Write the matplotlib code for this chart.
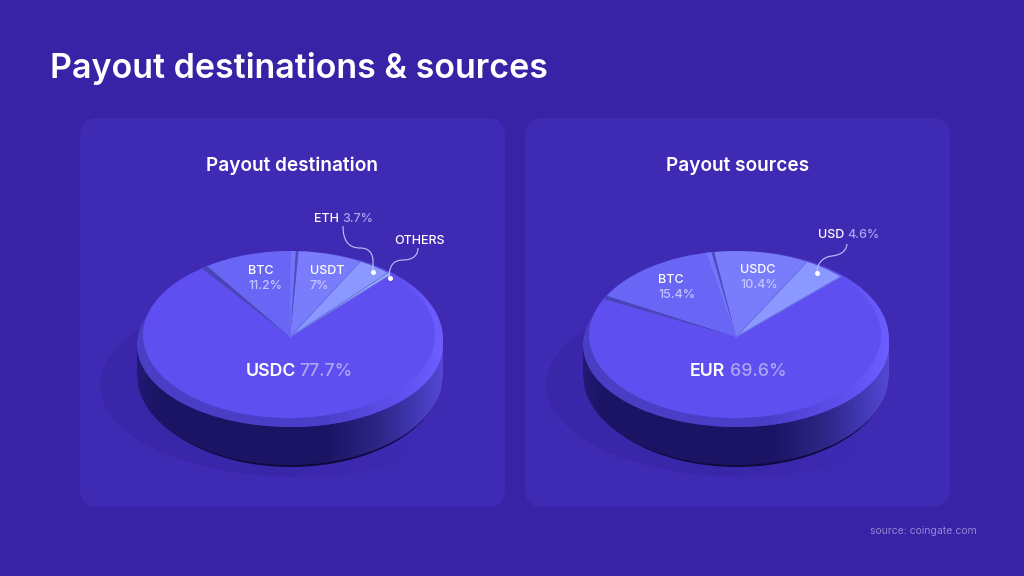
import numpy as np
import matplotlib
matplotlib.use("Agg")
import matplotlib.pyplot as plt
from matplotlib.colors import LinearSegmentedColormap
from matplotlib.patches import Ellipse, FancyBboxPatch, PathPatch, Polygon
from matplotlib.path import Path

plt.rcParams["font.family"] = ["Inter", "DejaVu Sans"]

BG = "#3822a6"
PANEL = "#3f2ab4"
FACE = "#5f4ff0"
WHITE = "#ffffff"
PALE = "#a9a6f2"
PALE_ON = "#c3c6fb"

left_names = ["USDC", "OTHERS", "ETH", "USDT", "BTC"]
left_values = [77.7, 0.4, 3.7, 7.0, 11.2]
left_colors = [FACE, "#a6c4ff", "#8a98ff", "#7a7dfb", "#6966f5"]

right_names = ["EUR", "USD", "USDC", "BTC"]
right_values = [69.6, 4.6, 10.4, 15.4]
right_colors = [FACE, "#8a98ff", "#7a7dfb", "#6966f5"]

side_cmap = LinearSegmentedColormap.from_list(
    "side", [(0, "#221a74"), (0.06, "#1c1566"), (0.62, "#1b1464"), (0.8, "#2f2788"),
             (0.9, "#4036b0"), (1, "#5448d4")])
bevel_cmap = LinearSegmentedColormap.from_list(
    "bevel", [(0, "#4a3ec4"), (0.62, "#4b3fca"), (0.86, "#6050f0"), (1, "#6c5eff")])
shadow_cmap = LinearSegmentedColormap.from_list(
    "shadow", [(0, (0.2, 0.13, 0.6, 0.4)), (0.45, (0.2, 0.13, 0.6, 0.4)), (0.8, (0.2, 0.13, 0.6, 0.0)),
               (1, (0.2, 0.13, 0.6, 0.0))])
GRAD = np.linspace(0, 1, 256).reshape(1, -1)


def draw_base(ax, cx):
    # soft shadow on the panel, fades out to the right
    im = ax.imshow(GRAD, cmap=shadow_cmap, aspect="auto", extent=(cx - 190, cx + 200, 480, 290), zorder=1)
    clip = Ellipse((cx + 5, 385), 390, 184, fc="none", ec="none")
    ax.add_patch(clip)
    im.set_clip_path(clip)
    # black crescent under the side
    ax.add_patch(Ellipse((cx + 1, 376), 302, 182, color="#0e0a3c", lw=0, zorder=2))
    x = np.linspace(-1, 1, 200)
    low = 375 + 90 * np.sqrt(1 - x ** 2)
    pts = np.column_stack([cx + 153 * x, low])
    pts = np.vstack([pts, [cx + 153, 345], [cx - 153, 345]])
    im = ax.imshow(GRAD, cmap=side_cmap, aspect="auto", extent=(cx - 153, cx + 153, 470, 330), zorder=3)
    clip = Polygon(pts, closed=True, fc="none", ec="none")
    ax.add_patch(clip)
    im.set_clip_path(clip)
    # bevel under the top face: low ellipse bulges left, high one shows on the right
    for ex, ey, w, h in [(cx, 345, 306, 164), (cx + 3, 339, 300, 176)]:
        im = ax.imshow(GRAD, cmap=bevel_cmap, aspect="auto", extent=(cx - 153, cx + 153, 430, 248), zorder=4)
        clip = Ellipse((ex, ey), w, h, fc="none", ec="none")
        ax.add_patch(clip)
        im.set_clip_path(clip)
    # USDC / EUR face
    ax.add_patch(Ellipse((cx - 1, 335), 292, 166, color=FACE, lw=0, zorder=5))


def sector(ax, a0, a1, color):
    t = np.radians(np.linspace(a0, a1, 8))
    xs = np.r_[0, np.cos(t)]
    ys = np.r_[0, np.sin(t)]
    ax.fill(xs, ys, color=color, lw=0, clip_on=False, zorder=5)


def draw_pie(fig, cx, start, values, colors):
    ax = fig.add_axes([(cx - 147) / 1024, 1 - 423 / 576, 294 / 1024, 172 / 576], zorder=1)
    wedges, _ = ax.pie(values, colors=colors, startangle=start, counterclock=True,
                       radius=1, wedgeprops={"linewidth": 0})
    wedges[0].set_visible(False)
    ax.set_aspect("auto")
    ax.set_xlim(-1, 1)
    ax.set_ylim(-1, 1)
    ax.patch.set_visible(False)
    ang = start + np.cumsum(values) * 3.6
    # walls around the BTC slice
    sector(ax, ang[-1] - 2.6, ang[-1], "#4a44b8")
    sector(ax, ang[-2], ang[-2] + 1.1, "#4f4cc0")
    sector(ax, ang[-2] + 1.1, ang[-2] + 3.0, "#7575f8")
    # thin lines between the others
    for a in ang[:-2]:
        t = np.radians(a)
        ax.plot([0, np.cos(t)], [0, np.sin(t)], color="#6a72e6", lw=0.8, clip_on=False, zorder=5)
    return ax


def connector(ax, verts, dot):
    codes = [Path.MOVETO] + [Path.CURVE4] * (len(verts) - 1)
    ax.add_patch(PathPatch(Path(verts, codes), fc="none", ec="#c4c3f5", lw=0.8, zorder=6))
    ax.plot(*dot, "o", color=WHITE, ms=3.6, mew=0, zorder=7)


def pair(ax, x1, x2, y, name, val, size, weight="medium", val_weight="medium"):
    ax.text(x1, y, name, color=WHITE, fontsize=size, fontweight=weight, va="center", ha="left")
    ax.text(x2, y, val, color=PALE, fontsize=size, fontweight=val_weight, va="center", ha="left")


def stacked(ax, x, y, name, val):
    ax.text(x, y, name, color=WHITE, fontsize=9, fontweight="medium", va="center")
    ax.text(x, y + 15, val, color=PALE_ON, fontsize=9, fontweight="medium", va="center")


fig = plt.figure(figsize=(10.24, 5.76), dpi=100, facecolor=BG)
bg = fig.add_axes([0, 0, 1, 1], zorder=0)
bg.axis("off")

for x0 in [80, 525]:
    bg.add_patch(FancyBboxPatch((x0 + 18, 118 + 18), 425 - 36, 389 - 36,
                                boxstyle="round,pad=18,rounding_size=18",
                                fc=PANEL, ec="none", zorder=0))

draw_base(bg, 290)
draw_base(bg, 736)
bg.set_xlim(0, 1024)
bg.set_ylim(576, 0)

draw_pie(fig, 290, 127, left_values, left_colors)
draw_pie(fig, 736, 154, right_values, right_colors)

top = fig.add_axes([0, 0, 1, 1], zorder=2)
top.set_xlim(0, 1024)
top.set_ylim(576, 0)
top.axis("off")

top.text(50, 68.5, "Payout destinations & sources", color=WHITE, fontsize=24.5, fontweight="semibold",
         va="center", ha="left")
top.text(292.5, 166, "Payout destination", color=WHITE, fontsize=13.7, fontweight="semibold",
         va="center", ha="center")
top.text(737.5, 166, "Payout sources", color=WHITE, fontsize=13.7, fontweight="semibold",
         va="center", ha="center")
top.text(977, 530.5, "source: coingate.com", color="#8f88d6", fontsize=7.5, va="center", ha="right")

# left pie labels
stacked(top, 248, 271, "BTC", "11.2%")
stacked(top, 310, 271, "USDT", "7%")
pair(top, 314, 342, 219, "ETH", "3.7%", 9)
top.text(394, 241, "OTHERS", color=WHITE, fontsize=9, fontweight="medium", va="center")
pair(top, 246, 299, 372, "USDC", "77.7%", 12.8, "semibold")

# right pie labels
stacked(top, 658, 280, "BTC", "15.4%")
stacked(top, 740, 270, "USDC", "10.4%")
pair(top, 818, 847, 235, "USD", "4.6%", 9)
pair(top, 690, 730, 372, "EUR", "69.6%", 12.8, "semibold")

connector(top, [(343, 226), (343, 240), (348, 248), (360, 248),
                (368, 248), (373, 252), (373, 262), (373, 266), (373, 269), (373, 272)], (373, 272))
connector(top, [(418, 248), (418, 256), (412, 260), (403, 260),
                (394, 260), (389, 265), (389, 278)], (389.5, 278))
connector(top, [(847, 244), (846, 252), (840, 255), (832, 256),
                (823, 257), (817, 263), (817, 272.5)], (817, 272.5))

fig.savefig("out.png", dpi=100, facecolor=BG)
